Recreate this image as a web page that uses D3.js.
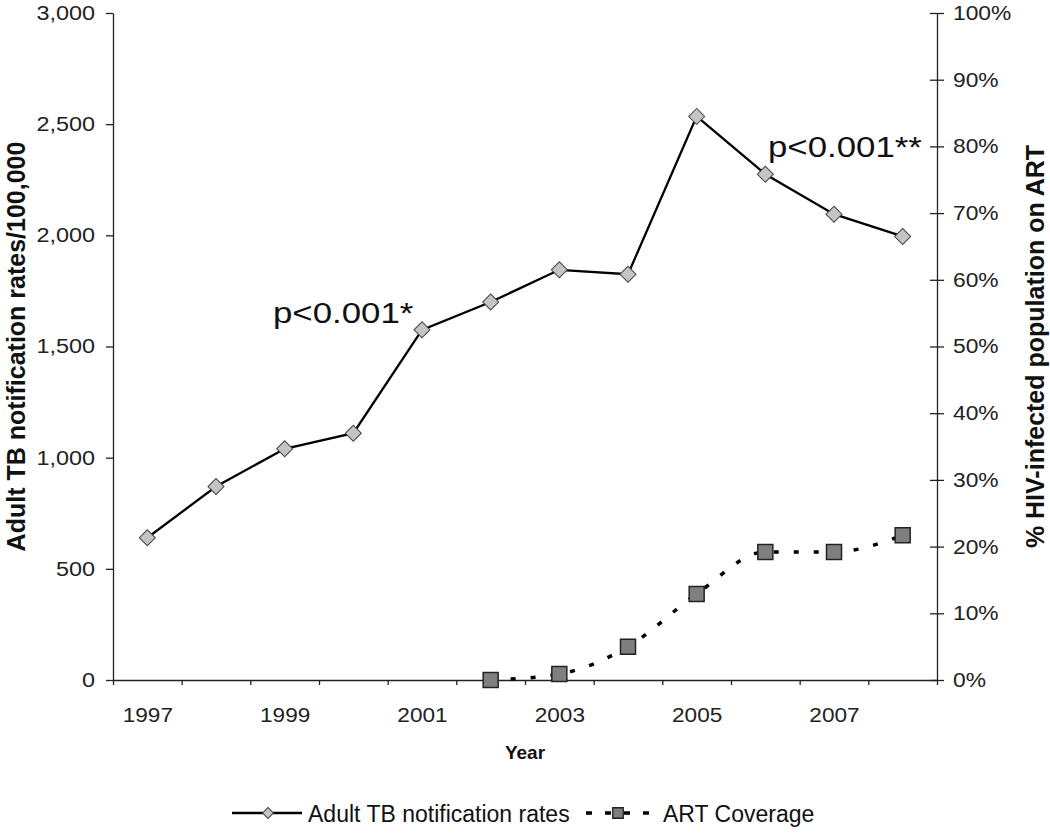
<!DOCTYPE html>
<html>
<head>
<meta charset="utf-8">
<script src="https://cdn.jsdelivr.net/npm/d3@7"></script>
<style>
  body { margin: 0; background: #fff; }
  svg { display: block; font-family: "Liberation Sans", Arial, sans-serif; }
  .axis path, .axis line { stroke: #222; stroke-width: 1.3; }
  .axis text { fill: #222; font-size: 20px; }
</style>
</head>
<body>
<div id="chart"></div>
<script>
// years on the x axis
var years    = [1997, 1998, 1999, 2000, 2001, 2002, 2003, 2004, 2005, 2006, 2007, 2008];
// adult TB notification rates per 100,000 (left axis)
var tbRates  = [640, 870, 1040, 1110, 1575, 1700, 1845, 1825, 2535, 2275, 2095, 1995];
// ART coverage, % of HIV-infected population (right axis), starts 2002
var artYears = [2002, 2003, 2004, 2005, 2006, 2007, 2008];
var artCov   = [0.0, 0.9, 5.0, 12.9, 19.2, 19.2, 21.7];

var leftTicks  = [0, 500, 1000, 1500, 2000, 2500, 3000];
var rightTicks = [0, 10, 20, 30, 40, 50, 60, 70, 80, 90, 100];
var yearLabels = [1997, 1999, 2001, 2003, 2005, 2007];

// stretch text a bit wider, the original font renders wide
function widen(sel, f){
    sel.each(function(){
        var len = this.getComputedTextLength();
        d3.select(this)
          .attr('textLength', len * f)
          .attr('lengthAdjust', 'spacingAndGlyphs');
    });
}

function main(){
    var W = 1050, H = 837;
    var left = 113, right = 937, top = 13, bottom = 680;

    var svg = d3.select('#chart').append('svg')
                .attr('width', W)
                .attr('height', H);

    // scales
    var x = d3.scaleLinear()
              .domain([years[0] - 0.5, years[years.length - 1] + 0.5])
              .range([left, right]);
    var yL = d3.scaleLinear().domain([0, 3000]).range([bottom, top]);
    var yR = d3.scaleLinear().domain([0, 100]).range([bottom, top]);

    // x axis: tick marks at year boundaries
    svg.append('g')
       .attr('class', 'axis')
       .attr('transform', 'translate(0,' + bottom + ')')
       .call(d3.axisBottom(x)
               .tickValues(d3.range(years[0] - 0.5, years[years.length - 1] + 1, 1))
               .tickFormat('')
               .tickSize(5)
               .tickSizeOuter(0));

    // x axis labels at odd years
    var xl = svg.append('g')
       .attr('class', 'axis')
       .attr('transform', 'translate(0,' + bottom + ')')
       .call(d3.axisBottom(x)
               .tickValues(yearLabels)
               .tickFormat(d3.format('d'))
               .tickSize(0)
               .tickPadding(28));
    xl.select('.domain').remove();
    widen(xl.selectAll('text'), 1.13);

    // left axis
    var ga = svg.append('g')
       .attr('class', 'axis')
       .attr('transform', 'translate(' + left + ',0)')
       .call(d3.axisLeft(yL)
               .tickValues(leftTicks)
               .tickFormat(d3.format(','))
               .tickSize(7)
               .tickPadding(11)
               .tickSizeOuter(0));
    widen(ga.selectAll('text'), 1.17);

    // right axis, ticks cross the line
    var gr = svg.append('g')
       .attr('class', 'axis')
       .attr('transform', 'translate(' + right + ',0)')
       .call(d3.axisRight(yR)
               .tickValues(rightTicks)
               .tickFormat(function(d){ return d + '%'; })
               .tickSize(7)
               .tickPadding(9)
               .tickSizeOuter(0));
    gr.selectAll('.tick line').attr('x1', -7);
    widen(gr.selectAll('text'), 1.14);

    // axis titles
    svg.append('text')
       .attr('transform', 'translate(25,' + (top + bottom) / 2 + ') rotate(-90)')
       .attr('text-anchor', 'middle')
       .style('font-size', '25px').style('font-weight', 'bold').attr('fill', '#111')
       .text('Adult TB notification rates/100,000');

    svg.append('text')
       .attr('transform', 'translate(1044,' + (top + bottom) / 2 + ') rotate(-90)')
       .attr('text-anchor', 'middle')
       .style('font-size', '25px').style('font-weight', 'bold').attr('fill', '#111')
       .text('% HIV-infected population on ART');

    svg.append('text')
       .attr('x', (left + right) / 2)
       .attr('y', 759)
       .attr('text-anchor', 'middle')
       .style('font-size', '19px').style('font-weight', 'bold').attr('fill', '#111')
       .text('Year');

    // ART coverage, dashed smooth line
    var art = artYears.map(function(d, i){ return { year: d, v: artCov[i] }; });
    var artLine = d3.line()
                    .x(function(d){ return x(d.year); })
                    .y(function(d){ return yR(d.v); })
                    .curve(d3.curveMonotoneX);
    svg.append('path')
       .datum(art)
       .attr('d', artLine)
       .attr('fill', 'none')
       .attr('stroke', '#000')
       .attr('stroke-width', 3.5)
       .attr('stroke-dasharray', '5,15');

    // TB notification line
    var tb = years.map(function(d, i){ return { year: d, v: tbRates[i] }; });
    var tbLine = d3.line()
                   .x(function(d){ return x(d.year); })
                   .y(function(d){ return yL(d.v); });
    svg.append('path')
       .datum(tb)
       .attr('d', tbLine)
       .attr('fill', 'none')
       .attr('stroke', '#000')
       .attr('stroke-width', 2.3);

    var diamond = d3.symbol().type(d3.symbolSquare).size(128);
    var square  = d3.symbol().type(d3.symbolSquare).size(225);

    svg.selectAll('.tbpt')
       .data(tb)
     .enter().append('path')
       .attr('class', 'tbpt')
       .attr('d', diamond)
       .attr('transform', function(d){ return 'translate(' + x(d.year) + ',' + yL(d.v) + ') rotate(45)'; })
       .attr('fill', '#c4c4c4')
       .attr('stroke', '#444')
       .attr('stroke-width', 1);

    svg.selectAll('.artpt')
       .data(art)
     .enter().append('path')
       .attr('class', 'artpt')
       .attr('d', square)
       .attr('transform', function(d){ return 'translate(' + x(d.year) + ',' + yR(d.v) + ')'; })
       .attr('fill', '#7f7f7f')
       .attr('stroke', '#222')
       .attr('stroke-width', 1.5);

    // p-value notes
    var n1 = svg.append('text')
       .attr('x', 273).attr('y', 323)
       .style('font-size', '29px').attr('fill', '#111')
       .text('p<0.001*');
    var n2 = svg.append('text')
       .attr('x', 768).attr('y', 157)
       .style('font-size', '29px').attr('fill', '#111')
       .text('p<0.001**');
    widen(n1, 1.2);
    widen(n2, 1.2);

    // legend
    var lg = svg.append('g');
    lg.append('line')
      .attr('x1', 232).attr('x2', 302).attr('y1', 813).attr('y2', 813)
      .attr('stroke', '#000').attr('stroke-width', 2.3);
    lg.append('path')
      .attr('d', d3.symbol().type(d3.symbolSquare).size(60))
      .attr('transform', 'translate(268,813) rotate(45)')
      .attr('fill', '#c4c4c4').attr('stroke', '#444');
    lg.append('text')
      .attr('x', 308).attr('y', 822)
      .style('font-size', '23px').attr('fill', '#111')
      .text('Adult TB notification rates');

    lg.append('line')
      .attr('x1', 586).attr('x2', 652).attr('y1', 813).attr('y2', 813)
      .attr('stroke', '#000').attr('stroke-width', 3.5)
      .attr('stroke-dasharray', '6,13');
    lg.append('path')
      .attr('d', d3.symbol().type(d3.symbolSquare).size(110))
      .attr('transform', 'translate(618,813)')
      .attr('fill', '#7f7f7f').attr('stroke', '#222').attr('stroke-width', 1.3);
    lg.append('text')
      .attr('x', 663).attr('y', 822)
      .style('font-size', '23px').attr('fill', '#111')
      .text('ART Coverage');
}

main();
</script>
</body>
</html>
